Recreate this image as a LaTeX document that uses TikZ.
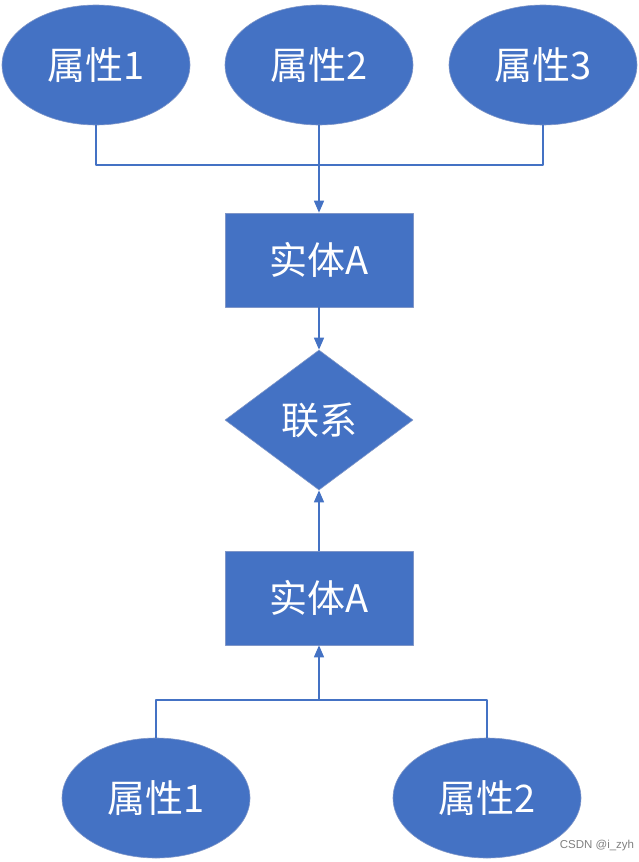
\documentclass[tikz,border=0pt]{standalone}
\usepackage{fontspec}
\setmainfont{Noto Sans CJK SC}
\newfontfamily\wmfont{Liberation Sans}
\usetikzlibrary{shapes.geometric,arrows.meta}
\definecolor{ermblue}{HTML}{4472C4}
\definecolor{ermedge}{HTML}{7F96C8}
\begin{document}
\begin{tikzpicture}[x=1pt,y=-1pt,line cap=round,line join=round,font=\fontsize{38}{38}\selectfont,
	attr/.style={ellipse,fill=ermblue,draw=ermedge,line width=0.6pt,text=white,minimum width=188pt,minimum height=120pt,inner sep=0pt},
	ent/.style={rectangle,fill=ermblue,draw=ermedge,line width=0.6pt,text=white,minimum width=188pt,minimum height=94pt,inner sep=0pt},
	rel/.style={diamond,fill=ermblue,draw=ermedge,line width=0.6pt,text=white,minimum width=188pt,minimum height=140pt,inner sep=0pt},
	link/.style={draw=ermblue,line width=1.4pt},
	>={Triangle[width=10pt,length=12pt]}]
	\useasboundingbox (0,0) rectangle (638,862);
	% upper part
	\node[attr] (a1) at (96,65) {属性1};
	\node[attr] (a2) at (319,65) {属性2};
	\node[attr] (a3) at (543,65) {属性3};
	\node[ent] (e1) at (319,260) {实体A};
	\node[rel] (r) at (319,420) {联系};
	\coordinate (j1) at (319,165);
	\draw[link] (a1.south) |- (j1) -| (a3.south);
	\draw[link,->] (a2.south) -- (e1.north);
	\draw[link,->] (e1.south) -- (r.north);
	% lower part
	\node[ent] (e2) at (319,598) {实体A};
	\node[attr] (b1) at (156,798) {属性1};
	\node[attr] (b2) at (487,798) {属性2};
	\coordinate (j2) at (319,700);
	\draw[link] (b1.north) |- (j2) -| (b2.north);
	\draw[link,->] (j2) -- (e2.south);
	\draw[link,->] (e2.north) -- (r.south);
	\node[text=gray,font=\wmfont\fontsize{11.5}{11.5}\selectfont] (wm) at (597,846) {CSDN @i\_zyh};
\end{tikzpicture}
\end{document}
